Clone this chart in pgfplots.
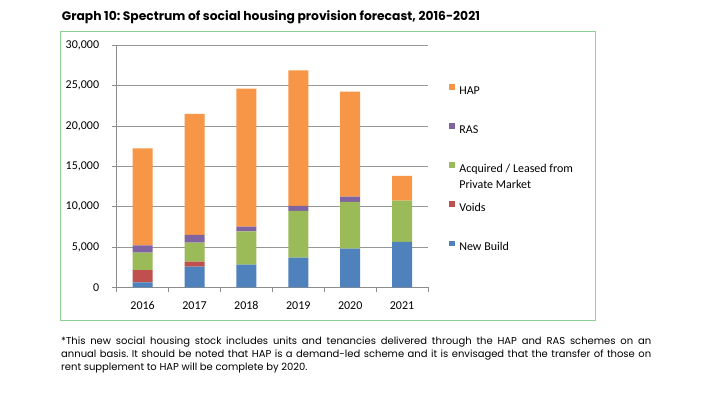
\documentclass[border=0pt]{standalone}
\usepackage{pgfplots}
\pgfplotsset{compat=1.18}
\usepackage{fontspec}
\setmainfont{Carlito}
\newfontfamily\geofont{Poppins}
\definecolor{nbblue}{HTML}{4F81BD}
\definecolor{voidred}{HTML}{C0504D}
\definecolor{acqgreen}{HTML}{9BBB59}
\definecolor{raspurple}{HTML}{8064A2}
\definecolor{haporange}{HTML}{F79646}
\definecolor{axisgray}{RGB}{140,140,140}
\definecolor{gridgray}{RGB}{150,150,150}
\definecolor{boxgreen}{RGB}{140,208,150}
\frenchspacing
\begin{document}
\begin{tikzpicture}
\useasboundingbox (0,0) rectangle (708bp,397bp);
\fill[white] (0,0) rectangle (708bp,397bp);
\draw[boxgreen, line width=1bp] (60.7bp,365.3bp) rectangle (595.7bp,76bp);
\node[anchor=base west, inner sep=0pt] at (61.7bp,376bp) {\resizebox{418bp}{!}{\geofont\bfseries\fontsize{12.5bp}{14bp}\selectfont Graph 10: Spectrum of social housing provision forecast, 2016-2021}};
\begin{axis}[
  at={(116.7bp,109.7bp)}, anchor=south west,
  scale only axis, width=311.3bp, height=242bp,
  xmin=-0.5, xmax=5.5, ymin=0, ymax=30000,
  ybar stacked, bar width=20bp,
  axis x line*=bottom, axis y line*=left,
  axis line style={draw=axisgray, line width=0.8bp},
  ymajorgrids, grid style={draw=gridgray, line width=0.8bp},
  xtick={-0.5,0.5,1.5,2.5,3.5,4.5,5.5},
  x tick label as interval,
  xticklabels={2016,2017,2018,2019,2020,2021},
  ytick={0,5000,10000,15000,20000,25000,30000},
  tick align=outside, major tick length=5bp,
  tick style={draw=axisgray, line width=0.8bp},
  scaled y ticks=false,
  /pgf/number format/1000 sep={,},
  /pgf/number format/assume math mode=true,
  tick label style={font=\fontsize{12bp}{14bp}\selectfont, inner sep=0pt},
  yticklabel style={anchor=east, xshift=-12.4bp},
  xticklabel style={anchor=north, yshift=-9.3bp},
  legend image code/.code={\fill[#1] (0bp,1.4bp) rectangle (6bp,7.2bp);},
  legend reversed,
  legend cell align=left,
  legend style={at={(1.0675,0.8406)}, anchor=north west, draw=none, fill=none,
    inner sep=0pt, outer sep=0pt, row sep=27bp, column sep=4.3bp,
    font=\fontsize{12bp}{14.5bp}\selectfont,
    nodes={inner sep=0pt, text height=8bp, text depth=2bp}},
]
\addplot[fill=nbblue, draw=none] coordinates {(0,600) (1,2560) (2,2800) (3,3680) (4,4790) (5,5620)};
\addlegendentry{New Build}
\addplot[fill=voidred, draw=none] coordinates {(0,1540) (1,620) (2,0) (3,0) (4,0) (5,0)};
\addlegendentry{Voids}
\addplot[fill=acqgreen, draw=none] coordinates {(0,2150) (1,2360) (2,4140) (3,5780) (4,5790) (5,5120)};
\addlegendentry{\smash{\begin{tabular}[t]{@{}l@{}}Acquired / Leased from\\[1.5bp]Private Market\end{tabular}}}
\addplot[fill=raspurple, draw=none] coordinates {(0,910) (1,950) (2,580) (3,620) (4,660) (5,0)};
\addlegendentry{RAS}
\addplot[fill=haporange, draw=none] coordinates {(0,12020) (1,15000) (2,17110) (3,16820) (4,13020) (5,3060)};
\addlegendentry{HAP}
\end{axis}
\begin{scope}[every node/.style={anchor=base west, inner sep=0pt, font=\geofont\fontsize{10bp}{12bp}\selectfont}]
\node at (61bp,52bp) {\makebox[590bp][s]{*This new social housing stock includes units and tenancies delivered through the HAP and RAS schemes on an}};
\node at (61bp,39.5bp) {\makebox[590bp][s]{annual basis. It should be noted that HAP is a demand-led scheme and it is envisaged that the transfer of those on}};
\node at (61bp,27bp) {rent supplement to HAP will be complete by 2020.};
\end{scope}
\end{tikzpicture}
\end{document}
